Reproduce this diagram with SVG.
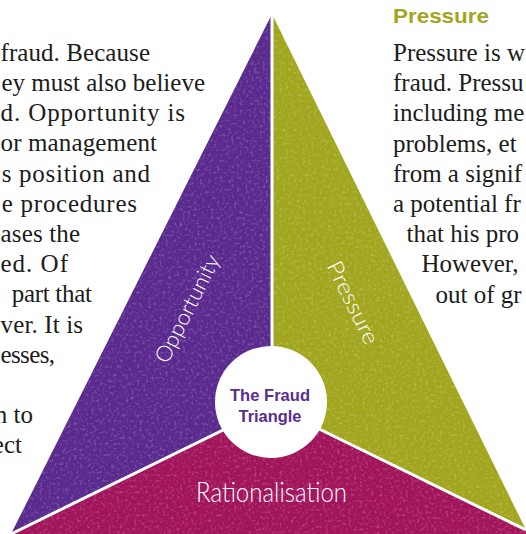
<svg xmlns="http://www.w3.org/2000/svg" width="526" height="534" viewBox="0 0 526 534">
  <style>
    .body { font-family: "Liberation Serif", "DejaVu Serif", serif; font-size: 25px; fill: #1c1c1c; }
    .lbl { font-family: Lato, "Open Sans", "Liberation Sans", sans-serif; font-weight: 300; fill: #ffffff; }
    .ctr { font-family: "Liberation Sans", Arial, sans-serif; font-weight: bold; font-size: 16.5px; fill: #5b2d8e; text-anchor: middle; }
    .head { font-family: "Liberation Sans", Arial, sans-serif; font-weight: bold; font-size: 21px; fill: #a2a61f; }
    .div { stroke: #ffffff; stroke-width: 3; fill: none; }
  </style>
  <defs>
    <filter id="speckle" x="0" y="0" width="526" height="534" filterUnits="userSpaceOnUse">
      <feTurbulence type="fractalNoise" baseFrequency="0.35" numOctaves="2" seed="7"/>
      <feColorMatrix type="matrix" values="0 0 0 0 1  0 0 0 0 1  0 0 0 0 1  0 0 0 3 -1.55"/>
    </filter>
    <clipPath id="tri">
      <polygon points="272,14 8,540 530,540"/>
    </clipPath>
  </defs>
  <rect width="526" height="534" fill="#ffffff"/>

  <g id="text-left" class="body" lengthAdjust="spacingAndGlyphs">
    <text x="0.5" y="60.7" textLength="149.5">fraud. Because</text>
    <text x="1.5" y="90.9" textLength="203.5">ey must also believe</text>
    <text x="0.5" y="121.1" textLength="184.5">d. Opportunity is</text>
    <text x="0.5" y="151.3" textLength="156.5">or management</text>
    <text x="1.7" y="181.5" textLength="148.3">s position and</text>
    <text x="1.7" y="211.7" textLength="135.3">e procedures</text>
    <text x="0.5" y="241.9" textLength="79.5">ases the</text>
    <text x="0.5" y="272.1" textLength="67.5">ed. Of</text>
    <text x="11.7" y="302.3" textLength="80.3">part that</text>
    <text x="0.5" y="332.5" textLength="82.5">ver. It is</text>
    <text x="0.5" y="362.7" textLength="54.5">esses,</text>
    <text x="33" y="423.1" text-anchor="end">n to</text>
    <text x="22" y="453.3" text-anchor="end">ect</text>
  </g>

  <g id="text-right">
    <text class="head" x="393" y="22.5" textLength="96" lengthAdjust="spacingAndGlyphs">Pressure</text>
    <g class="body">
      <text x="393" y="61">Pressure is w</text>
      <text x="393" y="91.2">fraud. Pressu</text>
      <text x="393" y="121.4">including me</text>
      <text x="393" y="151.6">problems, et</text>
      <text x="393" y="181.8">from a signif</text>
      <text x="393" y="212">a potential fr</text>
      <text x="406.5" y="242.2">that his pro</text>
      <text x="421.5" y="272.4">However,</text>
      <text x="435.5" y="302.6">out of gr</text>
    </g>
  </g>

  <g id="node-opportunity">
    <polygon points="272,14 272,406 11,534" fill="#5a2a8e"/>
  </g>
  <g id="node-pressure">
    <polygon points="272,14 526,530 272,406" fill="#a2a61f"/>
  </g>
  <g id="node-rationalisation">
    <polygon points="272,406 11,534 8,540 530,540 526,530" fill="#a2145b"/>
  </g>
  <rect x="0" y="0" width="526" height="534" clip-path="url(#tri)" filter="url(#speckle)" opacity="0.22"/>

  <g id="connectors">
    <line class="div" x1="272" y1="14" x2="272" y2="406"/>
    <line class="div" x1="272" y1="406" x2="11" y2="534"/>
    <line class="div" x1="272" y1="406" x2="526" y2="530"/>
  </g>

  <g id="labels">
    <text class="lbl" font-size="22" text-anchor="middle" transform="translate(194,312) rotate(-63.3)" textLength="118" lengthAdjust="spacingAndGlyphs">Opportunity</text>
    <text class="lbl" font-size="22" text-anchor="middle" transform="translate(346,306) rotate(63.8)" textLength="90" lengthAdjust="spacingAndGlyphs">Pressure</text>
    <text class="lbl" font-size="27" x="271.5" y="501.7" text-anchor="middle" textLength="151" lengthAdjust="spacingAndGlyphs">Rationalisation</text>
  </g>

  <g id="node-center">
    <circle cx="271" cy="402" r="56" fill="#ffffff"/>
    <text class="ctr" x="270" y="400.7" textLength="80" lengthAdjust="spacingAndGlyphs">The Fraud</text>
    <text class="ctr" x="270" y="421.5" textLength="63" lengthAdjust="spacingAndGlyphs">Triangle</text>
  </g>
</svg>
